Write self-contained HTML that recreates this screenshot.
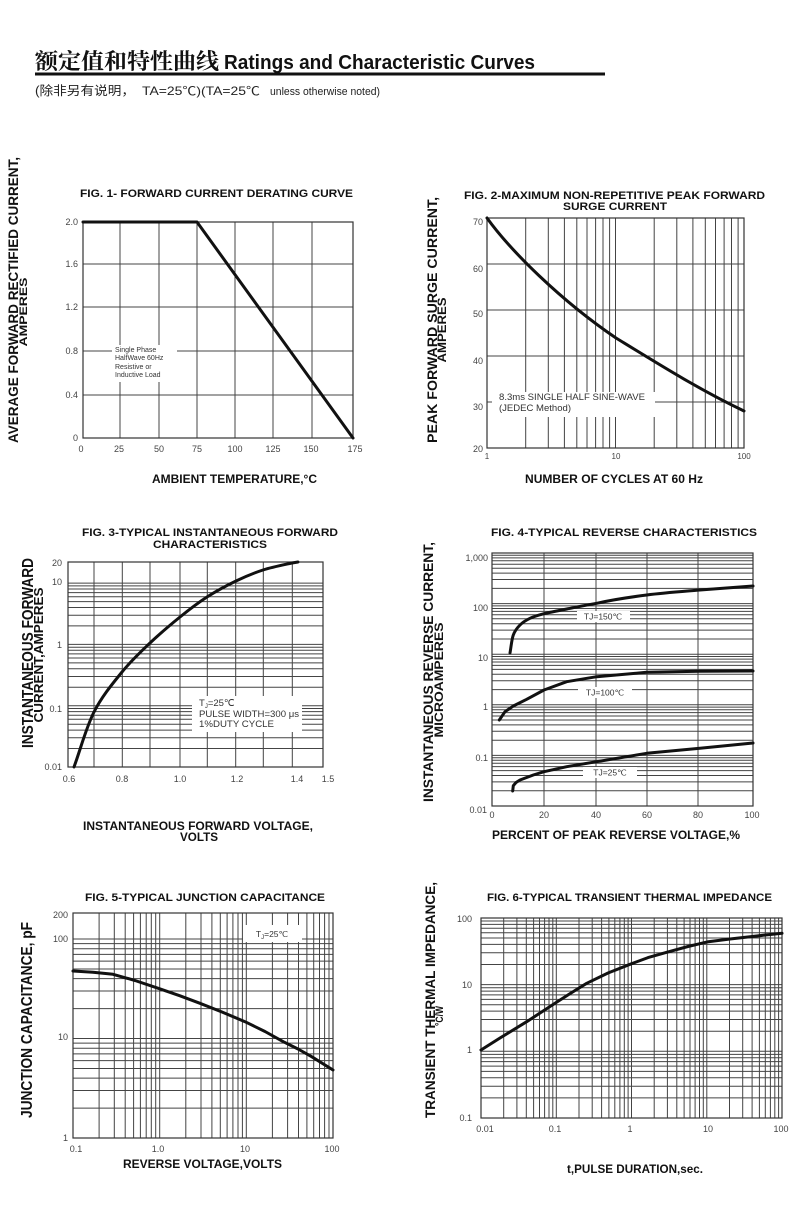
<!DOCTYPE html>
<html><head><meta charset="utf-8"><style>
html,body{margin:0;padding:0;background:#fff;}
svg{display:block;}
.t{font-family:"Liberation Sans",Arial,sans-serif;font-weight:bold;fill:#111;}
.k{font-family:"Liberation Sans",Arial,sans-serif;font-size:9px;fill:#444;}
.a{font-family:"Liberation Sans",Arial,sans-serif;fill:#333;}
.g{fill:none;stroke:#444;stroke-width:1;}
.b{fill:none;stroke:#333;stroke-width:1.2;}
.c{fill:none;stroke:#111;stroke-width:3;stroke-linejoin:round;stroke-linecap:round;}
</style></head><body>
<svg width="800" height="1230" viewBox="0 0 800 1230" xmlns="http://www.w3.org/2000/svg">
<rect x="0" y="0" width="800" height="1230" fill="#fff"/>

<!-- Header -->
<text x="35" y="69" style="font-family:'Liberation Serif','Noto Serif CJK SC',serif;font-weight:bold;font-size:22px;fill:#111" textLength="184" lengthAdjust="spacingAndGlyphs">额定值和特性曲线</text>
<text x="224" y="69" class="t" style="font-size:20px" textLength="311" lengthAdjust="spacingAndGlyphs">Ratings and Characteristic Curves</text>
<rect x="35" y="72.5" width="570" height="3" fill="#111"/>
<text x="35" y="95" style="font-family:'Liberation Sans','Noto Sans CJK SC',sans-serif;font-size:12.5px;fill:#222" textLength="100" lengthAdjust="spacingAndGlyphs">(除非另有说明，</text>
<text x="142" y="95" style="font-family:'Liberation Sans','Noto Sans CJK SC',sans-serif;font-size:12px;fill:#222" textLength="118" lengthAdjust="spacingAndGlyphs">TA=25℃)(TA=25℃</text>
<text x="270" y="95" style="font-family:'Liberation Sans',sans-serif;font-size:11px;fill:#222" textLength="110" lengthAdjust="spacingAndGlyphs">unless otherwise noted)</text>

<!-- ================= FIG 1 ================= -->
<text x="80" y="197" class="t" style="font-size:11px" textLength="273" lengthAdjust="spacingAndGlyphs">FIG. 1- FORWARD CURRENT DERATING CURVE</text>
<path class="g" d="M120,222V438M159,222V438M197,222V438M235,222V438M273,222V438M312,222V438M83,264H353M83,307H353M83,351H353M83,395H353"/>
<rect class="b" x="83" y="222" width="270" height="216"/>
<rect x="112" y="345" width="65" height="37" fill="#fff"/>
<text class="a" style="font-size:7px" x="115" y="352">Single Phase</text>
<text class="a" style="font-size:7px" x="115" y="360">HalfWave 60Hz</text>
<text class="a" style="font-size:7px" x="115" y="369">Resistive or</text>
<text class="a" style="font-size:7px" x="115" y="377">Inductive Load</text>
<path class="c" d="M83,222L197,222L353,438"/>
<g class="k" text-anchor="end">
<text x="78" y="225">2.0</text><text x="78" y="267">1.6</text><text x="78" y="310">1.2</text>
<text x="78" y="354">0.8</text><text x="78" y="398">0.4</text><text x="78" y="441">0</text>
</g>
<g class="k" text-anchor="middle">
<text x="81" y="452">0</text><text x="119" y="452">25</text><text x="159" y="452">50</text><text x="197" y="452">75</text>
<text x="235" y="452">100</text><text x="273" y="452">125</text><text x="311" y="452">150</text><text x="355" y="452">175</text>
</g>
<text class="t" style="font-size:12px" x="152" y="483" textLength="165" lengthAdjust="spacingAndGlyphs">AMBIENT TEMPERATURE,°C</text>
<text class="t" style="font-size:14px" text-anchor="middle" transform="translate(18,300) rotate(-90)" textLength="286" lengthAdjust="spacingAndGlyphs">AVERAGE FORWARD RECTIFIED CURRENT,</text>
<text class="t" style="font-size:11px" text-anchor="middle" transform="translate(27,312) rotate(-90)" textLength="69" lengthAdjust="spacingAndGlyphs">AMPERES</text>

<!-- ================= FIG 2 ================= -->
<text x="464" y="199" class="t" style="font-size:11px" textLength="301" lengthAdjust="spacingAndGlyphs">FIG. 2-MAXIMUM NON-REPETITIVE PEAK FORWARD</text>
<text x="563" y="210" class="t" style="font-size:11px" textLength="104" lengthAdjust="spacingAndGlyphs">SURGE CURRENT</text>
<path class="g" d="M525.7,218V448M548.3,218V448M564.4,218V448M576.8,218V448M587,218V448M595.6,218V448M603,218V448M609.6,218V448M615.5,218V448M654.2,218V448M676.8,218V448M692.9,218V448M705.3,218V448M715.5,218V448M724.1,218V448M731.5,218V448M738.1,218V448M487,264H744M487,310H744M487,356H744M487,402H744"/>
<rect class="b" x="487" y="218" width="257" height="230"/>
<rect x="492" y="392" width="163" height="25" fill="#fff"/>
<text class="a" style="font-size:9px" x="499" y="400" textLength="146" lengthAdjust="spacingAndGlyphs">8.3ms SINGLE HALF SINE-WAVE</text>
<text class="a" style="font-size:9px" x="499" y="411" textLength="72" lengthAdjust="spacingAndGlyphs">(JEDEC Method)</text>
<path class="c" d="M487,218C510,250 560,300 616,338C660,365 700,390 744,411"/>
<g class="k" text-anchor="end">
<text x="483" y="225">70</text><text x="483" y="272">60</text><text x="483" y="317">50</text>
<text x="483" y="364">40</text><text x="483" y="410">30</text><text x="483" y="452">20</text>
</g>
<g class="k" text-anchor="middle" style="font-size:8px">
<text x="487" y="459">1</text><text x="616" y="459">10</text><text x="744" y="459">100</text>
</g>
<text class="t" style="font-size:12px" x="525" y="483" textLength="178" lengthAdjust="spacingAndGlyphs">NUMBER OF CYCLES AT 60 Hz</text>
<text class="t" style="font-size:14px" text-anchor="middle" transform="translate(437,320) rotate(-90)" textLength="246" lengthAdjust="spacingAndGlyphs">PEAK  FORWARD SURGE CURRENT,</text>
<text class="t" style="font-size:12px" text-anchor="middle" transform="translate(446,330) rotate(-90)" textLength="65" lengthAdjust="spacingAndGlyphs">AMPERES</text>

<!-- ================= FIG 3 ================= -->
<text x="82" y="536" class="t" style="font-size:11px" textLength="256" lengthAdjust="spacingAndGlyphs">FIG. 3-TYPICAL INSTANTANEOUS FORWARD</text>
<text x="153" y="548" class="t" style="font-size:11px" textLength="114" lengthAdjust="spacingAndGlyphs">CHARACTERISTICS</text>
<path class="g" d="M94,562V767M122.3,562V767M150,562V767M180,562V767M207.3,562V767M235.7,562V767M263.3,562V767M292.3,562V767
M68,748.5H323M68,737.8H323M68,730.1H323M68,724.2H323M68,719.3H323M68,715.2H323M68,711.6H323M68,708.5H323M68,705.7H323
M68,687.2H323M68,676.5H323M68,668.8H323M68,662.9H323M68,658H323M68,653.9H323M68,650.3H323M68,647.2H323M68,644.4H323
M68,625.9H323M68,615.2H323M68,607.5H323M68,601.6H323M68,596.7H323M68,592.6H323M68,589H323M68,585.9H323M68,583.1H323"/>
<rect class="b" x="68" y="562" width="255" height="205"/>
<rect x="192" y="696" width="110" height="36" fill="#fff"/>
<text class="a" style="font-size:9.5px" x="199" y="706">T<tspan style="font-size:6px" dy="2">J</tspan><tspan dy="-2">=25℃</tspan></text>
<text class="a" style="font-size:9.5px" x="199" y="717" textLength="100" lengthAdjust="spacingAndGlyphs">PULSE WIDTH=300 μs</text>
<text class="a" style="font-size:9.5px" x="199" y="727" textLength="75" lengthAdjust="spacingAndGlyphs">1%DUTY CYCLE</text>
<path class="c" d="M74,767C80.7,748.7 86,727.8 94,712C102,696.2 112.7,683.5 122,672C131.3,660.5 140.3,652.2 150,643C159.7,633.8 170.5,624.7 180,617C189.5,609.3 197.7,603 207,597C216.3,591 226.7,585.5 236,581C245.3,576.5 253.7,573 263,570C272.3,567 286.2,564.3 292,563L298,562"/>
<g class="k" text-anchor="end">
<text x="62" y="566">20</text><text x="62" y="585">10</text><text x="62" y="648">1</text>
<text x="62" y="712">0.1</text><text x="62" y="770">0.01</text>
</g>
<g class="k" text-anchor="middle">
<text x="69" y="782">0.6</text><text x="122" y="782">0.8</text><text x="180" y="782">1.0</text>
<text x="237" y="782">1.2</text><text x="297" y="782">1.4</text><text x="328" y="782">1.5</text>
</g>
<text class="t" style="font-size:12px" x="83" y="830" textLength="230" lengthAdjust="spacingAndGlyphs">INSTANTANEOUS FORWARD VOLTAGE,</text>
<text class="t" style="font-size:12px" x="180" y="841" textLength="38" lengthAdjust="spacingAndGlyphs">VOLTS</text>
<text class="t" style="font-size:16px" text-anchor="middle" transform="translate(33,653) rotate(-90)" textLength="190" lengthAdjust="spacingAndGlyphs">INSTANTANEOUS FORWARD</text>
<text class="t" style="font-size:13px" text-anchor="middle" transform="translate(43,655) rotate(-90)" textLength="135" lengthAdjust="spacingAndGlyphs">CURRENT,AMPERES</text>

<!-- ================= FIG 4 ================= -->
<text x="491" y="536" class="t" style="font-size:11px" textLength="266" lengthAdjust="spacingAndGlyphs">FIG. 4-TYPICAL REVERSE CHARACTERISTICS</text>
<path class="g" d="M544,553V806M596,553V806M647,553V806M698,553V806
M492,790.8H753M492,781.9H753M492,775.5H753M492,770.6H753M492,766.6H753M492,763.2H753M492,760.3H753M492,757.7H753M492,755.4H753
M492,740.2H753M492,731.3H753M492,724.9H753M492,720H753M492,716H753M492,712.6H753M492,709.7H753M492,707.1H753M492,704.8H753
M492,689.6H753M492,680.7H753M492,674.3H753M492,669.4H753M492,665.4H753M492,662H753M492,659.1H753M492,656.5H753M492,654.2H753
M492,639H753M492,630.1H753M492,623.7H753M492,618.8H753M492,614.8H753M492,611.4H753M492,608.5H753M492,605.9H753M492,603.6H753
M492,588.4H753M492,579.5H753M492,573.1H753M492,568.2H753M492,564.2H753M492,560.8H753M492,557.9H753M492,555.3H753"/>
<rect class="b" x="492" y="553" width="261" height="253"/>
<rect x="577" y="611" width="53" height="11" fill="#fff"/>
<rect x="578" y="687" width="54" height="11" fill="#fff"/>
<rect x="583" y="767" width="54" height="11" fill="#fff"/>
<g class="a" style="font-size:8.5px" text-anchor="middle">
<text x="603" y="619.5">TJ=150℃</text>
<text x="605" y="695.5">TJ=100℃</text>
<text x="610" y="775.5">TJ=25℃</text>
</g>
<path class="c" d="M510,653C511.1,647 511.6,639.7 513.3,635C515,630.3 517.2,627.8 520,625C522.8,622.2 526,620.2 530,618.3C534,616.4 537.9,615.3 544,613.7C550.1,612.2 557.9,610.7 566.7,609C575.5,607.3 583.4,605.6 596.7,603.3C610,600.3 629.5,597.2 646.7,595C663.9,592.8 682.3,591.5 700,590L753,586"/>
<path class="c" d="M499.3,720L505,711.7L513.3,706L526.7,699.3L544,690L566.7,681.7L596.7,676.7L646.7,672.3L700,671.3L753,671"/>
<path class="c" d="M512.7,791L513.3,785.7L516,782.5L520,780L533.3,775L544,771.7L566.7,766.7L596.7,761.7L646.7,753.3L700,748.3L753,743"/>
<g class="k" text-anchor="end">
<text x="488" y="561">1,000</text><text x="488" y="611">100</text><text x="488" y="661">10</text>
<text x="488" y="710">1</text><text x="488" y="761">0.1</text><text x="487" y="813">0.01</text>
</g>
<g class="k" text-anchor="middle">
<text x="492" y="818">0</text><text x="544" y="818">20</text><text x="596" y="818">40</text>
<text x="647" y="818">60</text><text x="698" y="818">80</text><text x="752" y="818">100</text>
</g>
<text class="t" style="font-size:12px" x="492" y="839" textLength="248" lengthAdjust="spacingAndGlyphs">PERCENT OF PEAK REVERSE VOLTAGE,%</text>
<text class="t" style="font-size:14px" text-anchor="middle" transform="translate(433,672) rotate(-90)" textLength="260" lengthAdjust="spacingAndGlyphs">INSTANTANEOUS REVERSE CURRENT,</text>
<text class="t" style="font-size:12px" text-anchor="middle" transform="translate(443,680) rotate(-90)" textLength="115" lengthAdjust="spacingAndGlyphs">MICROAMPERES</text>

<!-- ================= FIG 5 ================= -->
<text x="85" y="901" class="t" style="font-size:11px" textLength="240" lengthAdjust="spacingAndGlyphs">FIG. 5-TYPICAL JUNCTION CAPACITANCE</text>
<path class="g" d="M99.1,913V1138M114.3,913V1138M125.2,913V1138M133.6,913V1138M140.4,913V1138M146.2,913V1138M151.3,913V1138M155.7,913V1138M159.7,913V1138
M185.8,913V1138M201,913V1138M211.9,913V1138M220.3,913V1138M227.1,913V1138M232.9,913V1138M238,913V1138M242.4,913V1138M246.3,913V1138
M272.4,913V1138M287.6,913V1138M298.5,913V1138M306.9,913V1138M313.7,913V1138M319.5,913V1138M324.6,913V1138M329,913V1138
M73,1108.1H333M73,1090.5H333M73,1078.1H333M73,1068.5H333M73,1060.6H333M73,1053.9H333M73,1048.2H333M73,1043.1H333M73,1038.5H333
M73,1008.6H333M73,991H333M73,978.6H333M73,969H333M73,961.1H333M73,954.4H333M73,948.7H333M73,943.6H333M73,939H333"/>
<rect class="b" x="73" y="913" width="260" height="225"/>
<rect x="243" y="925" width="59" height="17" fill="#fff"/>
<text class="a" style="font-size:8.5px" x="272" y="937" text-anchor="middle">T<tspan style="font-size:6px" dy="2">J</tspan><tspan dy="-2">=25℃</tspan></text>
<path class="c" d="M73,971L93,972.3L113,974.3L135,980.5L158.3,988.3L180,995.8L200,1003.3L222,1012L245,1021.7L265,1031.5L283.3,1041.7L298,1049L311.7,1056.7L333,1070"/>
<g class="k" text-anchor="end">
<text x="68" y="918">200</text><text x="68" y="942">100</text><text x="68" y="1040">10</text><text x="68" y="1141">1</text>
</g>
<g class="k" text-anchor="middle">
<text x="76" y="1152">0.1</text><text x="158" y="1152">1.0</text><text x="245" y="1152">10</text><text x="332" y="1152">100</text>
</g>
<text class="t" style="font-size:12px" x="123" y="1168" textLength="159" lengthAdjust="spacingAndGlyphs">REVERSE VOLTAGE,VOLTS</text>
<text class="t" style="font-size:16px" text-anchor="middle" transform="translate(32,1020) rotate(-90)" textLength="196" lengthAdjust="spacingAndGlyphs">JUNCTION CAPACITANCE, pF</text>

<!-- ================= FIG 6 ================= -->
<text x="487" y="901" class="t" style="font-size:11px" textLength="285" lengthAdjust="spacingAndGlyphs">FIG. 6-TYPICAL TRANSIENT THERMAL IMPEDANCE</text>
<path class="g" d="M503.7,918V1118M516.9,918V1118M526.3,918V1118M533.6,918V1118M539.5,918V1118M544.6,918V1118M549,918V1118M552.8,918V1118M556.3,918V1118
M579,918V1118M592.2,918V1118M601.6,918V1118M608.9,918V1118M614.8,918V1118M619.9,918V1118M624.3,918V1118M628.1,918V1118M631.5,918V1118
M654.2,918V1118M667.4,918V1118M676.8,918V1118M684.1,918V1118M690,918V1118M695.1,918V1118M699.5,918V1118M703.3,918V1118M706.8,918V1118
M729.5,918V1118M742.7,918V1118M752.1,918V1118M759.4,918V1118M765.3,918V1118M770.4,918V1118M774.8,918V1118M778.6,918V1118
M481,1097.9H782M481,1086.2H782M481,1077.8H782M481,1071.4H782M481,1066.1H782M481,1061.6H782M481,1057.8H782M481,1054.4H782M481,1051.3H782
M481,1031.2H782M481,1019.5H782M481,1011.1H782M481,1004.7H782M481,999.4H782M481,994.9H782M481,991.1H782M481,987.7H782M481,984.6H782
M481,964.5H782M481,952.8H782M481,944.4H782M481,938H782M481,932.7H782M481,928.2H782M481,924.4H782M481,921H782"/>
<rect class="b" x="481" y="918" width="301" height="200"/>
<path class="c" d="M481,1050L500,1038L526.7,1021.7L555,1003.3L571,993L586.7,983.3L608,973L630,964.3L648,957.6L666.7,952.3L688,946.5L708.3,941.7L730,939L750,936.7L782,933.3"/>
<g class="k" text-anchor="end">
<text x="472" y="922">100</text><text x="472" y="988">10</text><text x="472" y="1053">1</text><text x="472" y="1121">0.1</text>
</g>
<g class="k" text-anchor="middle">
<text x="485" y="1132">0.01</text><text x="555" y="1132">0.1</text><text x="630" y="1132">1</text>
<text x="708" y="1132">10</text><text x="781" y="1132">100</text>
</g>
<text class="t" style="font-size:12px" x="567" y="1173" textLength="136" lengthAdjust="spacingAndGlyphs">t,PULSE DURATION,sec.</text>
<text class="t" style="font-size:14px" text-anchor="middle" transform="translate(435,1000) rotate(-90)" textLength="236" lengthAdjust="spacingAndGlyphs">TRANSIENT THERMAL IMPEDANCE,</text>
<text class="t" style="font-size:11px" text-anchor="middle" transform="translate(443,1016) rotate(-90)" textLength="20" lengthAdjust="spacingAndGlyphs">°C/W</text>
</svg>
</body></html>
